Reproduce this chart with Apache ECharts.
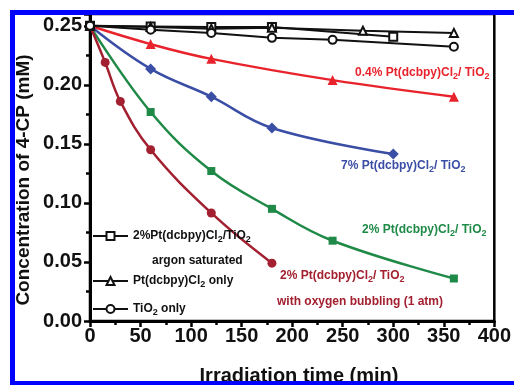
<!DOCTYPE html>
<html>
<head>
<meta charset="utf-8">
<script src="https://cdn.jsdelivr.net/npm/echarts@6/dist/echarts.min.js"></script>
<style>html,body{margin:0;padding:0;background:#fff;overflow:hidden}#c{width:514px;height:385px}</style>
</head>
<body>
<div id="c"></div>
<script>
// ---- data ----
var xTicks = [0, 50, 100, 150, 200, 250, 300, 350, 400];
var yTicks = [0.00, 0.05, 0.10, 0.15, 0.20, 0.25];

var oxyX = [0, 15, 30, 60, 120, 180];
var oxyY = [0.25, 0.219, 0.186, 0.145, 0.0915, 0.049];

var pt2X = [0, 60, 120, 180, 240, 360];
var pt2Y = [0.25, 0.177, 0.127, 0.095, 0.068, 0.036];

var pt7X = [0, 60, 120, 180, 300];
var pt7Y = [0.25, 0.2135, 0.190, 0.1635, 0.1415];

var pt04X = [0, 60, 120, 240, 360];
var pt04Y = [0.25, 0.2345, 0.222, 0.204, 0.190];

var argonX = [0, 60, 120, 180, 300];
var argonY = [0.25, 0.2495, 0.249, 0.249, 0.2407];

var ptOnlyX = [0, 60, 120, 180, 270, 360];
var ptOnlyY = [0.25, 0.249, 0.2475, 0.2483, 0.2458, 0.244];

var tioX = [0, 60, 120, 180, 240, 360];
var tioY = [0.25, 0.2466, 0.244, 0.2398, 0.2381, 0.2322];

function pairs(xs, ys) { return xs.map(function (x, i) { return [x, ys[i]]; }); }

var F = 'Liberation Sans, Arial, sans-serif';
var subRich = {
  a: { fontSize: 12, fontWeight: 'bold', fontFamily: F },
  s: { fontSize: 9, fontWeight: 'bold', fontFamily: F, padding: [7, 0, 0, 0] }
};
function richFor(color) {
  return {
    a: { fontSize: 12, fontWeight: 'bold', fontFamily: F, fill: color },
    s: { fontSize: 9, fontWeight: 'bold', fontFamily: F, fill: color, padding: [7, 0, 0, 0] }
  };
}

var C_OXY = '#a2202f', C_PT2 = '#1f8a47', C_PT7 = '#3b4ea5', C_PT04 = '#e8232c';

var legendNames = {
  argon: '{a|2%Pt(dcbpy)Cl}{s|2}{a|/TiO}{s|2}',
  ptonly: '{a|Pt(dcbpy)Cl}{s|2}{a| only}',
  tio: '{a|TiO}{s|2}{a| only}'
};

function legend(name, top) {
  return {
    data: [name], left: 92, top: top, itemWidth: 35, itemHeight: 10, itemGap: 0,
    padding: 0,
    formatter: function (n) { return legendNames[n]; },
    textStyle: { color: '#111', rich: subRich }
  };
}

function blackSeries(name, xs, ys, sym) {
  return {
    name: name, type: 'line', data: pairs(xs, ys), symbol: sym, symbolSize: 8,
    lineStyle: { color: '#111', width: 2 },
    itemStyle: { color: '#111', borderColor: '#111', borderWidth: 1.3 },
    z: 3
  };
}
function colorSeries(name, xs, ys, sym, size, color) {
  return {
    name: name, type: 'line', data: pairs(xs, ys), smooth: 0.4, symbol: sym, symbolSize: size,
    lineStyle: { color: color, width: 2.5 },
    itemStyle: { color: color },
    z: 2
  };
}

var chart = echarts.init(document.getElementById('c'));
chart.setOption({
  animation: false,
  backgroundColor: '#fff',
  grid: { left: 90, top: 14, right: 6, bottom: 64, show: true, borderColor: '#000', borderWidth: 2.5 },
  xAxis: {
    type: 'value', min: 0, max: 400, interval: 50,
    axisLine: { lineStyle: { color: '#000', width: 3 } },
    axisTick: { length: 6, lineStyle: { color: '#000', width: 2.5 } },
    minorTick: { show: true, splitNumber: 2, length: 4, lineStyle: { color: '#000', width: 2.5 } },
    splitLine: { show: false },
    axisLabel: { color: '#111', fontSize: 20, fontWeight: 'bold', fontFamily: F, margin: 5 }
  },
  yAxis: {
    type: 'value', min: 0, max: 0.26, interval: 0.05,
    axisLine: { lineStyle: { color: '#000', width: 3 } },
    axisTick: { length: 6, lineStyle: { color: '#000', width: 2.5 } },
    minorTick: { show: true, splitNumber: 2, length: 4, lineStyle: { color: '#000', width: 2.5 } },
    splitLine: { show: false },
    axisLabel: {
      color: '#111', fontSize: 20, fontWeight: 'bold', fontFamily: F, margin: 8,
      showMaxLabel: false,
      formatter: function (v) { return v.toFixed(2); }
    }
  },
  legend: [legend('argon', 230), legend('ptonly', 275), legend('tio', 303)],
  series: [
    colorSeries('pt04', pt04X, pt04Y, 'triangle', 10, C_PT04),
    colorSeries('pt7', pt7X, pt7Y, 'diamond', 11, C_PT7),
    colorSeries('pt2', pt2X, pt2Y, 'rect', 8, C_PT2),
    colorSeries('oxy', oxyX, oxyY, 'circle', 9, C_OXY),
    blackSeries('argon', argonX, argonY, 'emptyRect'),
    blackSeries('ptonly', ptOnlyX, ptOnlyY, 'emptyTriangle'),
    blackSeries('tio', tioX, tioY, 'emptyCircle')
  ],
  graphic: [
    { type: 'text', left: 355, top: 67, z: 10, style: { text: '{a|0.4% Pt(dcbpy)Cl}{s|2}{a|/ TiO}{s|2}', fill: C_PT04, rich: richFor(C_PT04) } },
    { type: 'text', left: 341, top: 160, z: 10, style: { text: '{a|7% Pt(dcbpy)Cl}{s|2}{a|/ TiO}{s|2}', fill: C_PT7, rich: richFor(C_PT7) } },
    { type: 'text', left: 362, top: 224, z: 10, style: { text: '{a|2% Pt(dcbpy)Cl}{s|2}{a|/ TiO}{s|2}', fill: C_PT2, rich: richFor(C_PT2) } },
    { type: 'text', left: 280, top: 270, z: 10, style: { text: '{a|2% Pt(dcbpy)Cl}{s|2}{a|/ TiO}{s|2}', fill: C_OXY, rich: richFor(C_OXY) } },
    { type: 'text', left: 277, top: 296, z: 10, style: { text: 'with oxygen bubbling (1 atm)', fill: C_OXY, font: 'bold 12px ' + F } },
    { type: 'text', left: 152, top: 255, z: 10, style: { text: 'argon saturated', fill: '#111', font: 'bold 12px ' + F } },
    { type: 'text', x: 24, y: 180, rotation: Math.PI / 2, z: 10,
      style: { text: 'Concentration of 4-CP (mM)', fill: '#111', font: 'bold 19px ' + F, align: 'center', verticalAlign: 'middle' } },
    { type: 'text', x: 299, y: 376, z: 10,
      style: { text: 'Irradiation time (min)', fill: '#111', font: 'bold 20px ' + F, align: 'center', verticalAlign: 'middle' } },
    { type: 'rect', z: 20, shape: { x: 12.5, y: 12.5, width: 506, height: 371 },
      style: { fill: 'none', stroke: '#0000ff', lineWidth: 5 } }
  ]
});
</script>
</body>
</html>
